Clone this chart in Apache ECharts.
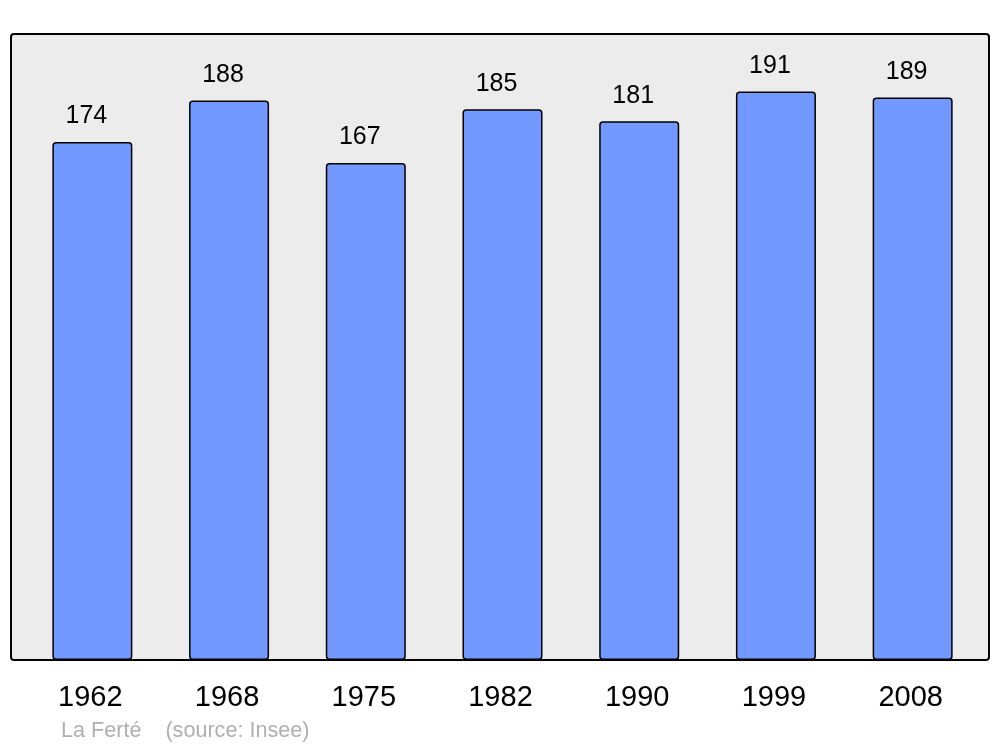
<!DOCTYPE html>
<html><head><meta charset="utf-8">
<script src="https://cdn.jsdelivr.net/npm/echarts@6/dist/echarts.min.js"></script>
<style>html,body{margin:0;padding:0;background:#fff}#c{width:1000px;height:747px}</style>
</head><body><div id="c"></div>
<script>
const years = ['1962','1968','1975','1982','1990','1999','2008'];
const population = [174, 188, 167, 185, 181, 191, 189];
const footer = 'La Ferté    (source: Insee)';

const chart = echarts.init(document.getElementById('c'), null, {renderer:'canvas'});
chart.setOption({
  animation:false,
  textStyle:{fontFamily:'Liberation Sans, Arial, sans-serif'},
  graphic:[
    {type:'rect', z:-10, shape:{x:11,y:34,width:978,height:626,r:3},
     style:{fill:'#ececec', stroke:'#000', lineWidth:2}},
    {type:'text', left:61, top:720, style:{text:footer, fill:'#b0b0b0', font:'21.6px "Liberation Sans", Arial, sans-serif'}}
  ],
  grid:{left:24, right:19, top:34, bottom:87},
  xAxis:{type:'category', data:years,
    axisLine:{show:false}, axisTick:{show:false},
    axisLabel:{fontSize:29, color:'#000', margin:23, padding:[0,4,0,0], fontFamily:'Liberation Sans, Arial, sans-serif'}},
  yAxis:{type:'value', min:0, max:210.3, show:false, splitLine:{show:false}},
  series:[{type:'bar', data:population, barWidth:80,
    itemStyle:{color:'#7299ff', borderColor:'#000', borderWidth:1.5, borderRadius:3},
    label:{show:true, position:'top', distance:13, offset:[-6,0], fontSize:25, color:'#000',
      fontFamily:'Liberation Sans, Arial, sans-serif'}
  }]
});
</script></body></html>
